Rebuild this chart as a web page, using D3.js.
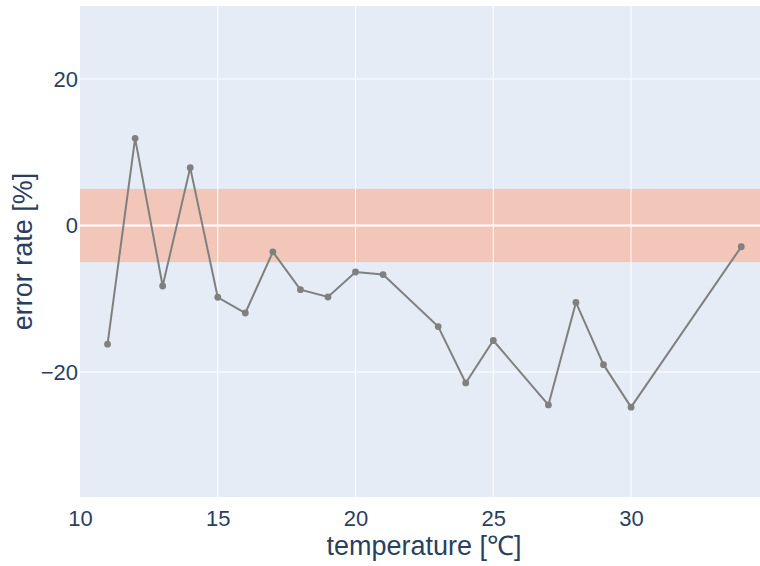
<!DOCTYPE html>
<html>
<head>
<meta charset="utf-8">
<script src="https://d3js.org/d3.v7.min.js"></script>
<style>
  body { margin: 0; background: #fff; }
  text { font-family: "Liberation Sans", Arial, sans-serif; fill: #2a3f5f; }
</style>
</head>
<body>
<div id="chart"></div>
<script>
// temperature readings and error rate at each one
const temperatures = [11, 12, 13, 14, 15, 16, 17, 18, 19, 20, 21, 23, 24, 25, 27, 28, 29, 30, 34];
const errorRates = [-16.2, 11.9, -8.26, 7.9, -9.8, -11.95, -3.6, -8.76, -9.76, -6.35, -6.7,
                    -13.8, -21.5, -15.7, -24.5, -10.5, -19.0, -24.8, -2.9];
const xTicks = [10, 15, 20, 25, 30];
const yTicks = [-20, 0, 20];
const toleranceBand = [-5, 5];
const xRange = [10, 34.68];
const yRange = [-37.07, 29.97];

const W = 760, H = 566;
const margin = {left: 80, top: 6, right: 0, bottom: 69};
const pw = W - margin.left - margin.right;
const ph = H - margin.top - margin.bottom;

const svg = d3.select("#chart").append("svg")
    .attr("width", W)
    .attr("height", H);

const x = d3.scaleLinear().domain(xRange).range([0, pw]);
const y = d3.scaleLinear().domain(yRange).range([ph, 0]);

const g = svg.append("g").attr("transform", `translate(${margin.left},${margin.top})`);

g.append("rect")
    .attr("width", pw)
    .attr("height", ph)
    .attr("fill", "#E5ECF6");

// tolerance band
g.append("rect")
    .attr("x", 0)
    .attr("width", pw)
    .attr("y", y(toleranceBand[1]))
    .attr("height", y(toleranceBand[0]) - y(toleranceBand[1]))
    .attr("fill", "#FFA07A")
    .attr("opacity", 0.5);

// grid
g.selectAll(".xgrid")
  .data(xTicks.filter(d => d !== xRange[0]))
  .join("line")
    .attr("x1", d => x(d)).attr("x2", d => x(d))
    .attr("y1", 0).attr("y2", ph)
    .attr("stroke", "#fff").attr("stroke-width", 1);

g.selectAll(".ygrid")
  .data(yTicks)
  .join("line")
    .attr("x1", 0).attr("x2", pw)
    .attr("y1", d => y(d)).attr("y2", d => y(d))
    .attr("stroke", "#fff")
    .attr("stroke-width", d => d === 0 ? 2 : 1);

// axes
const xAxis = g.append("g")
    .attr("transform", `translate(0,${ph})`)
    .call(d3.axisBottom(x).tickValues(xTicks).tickSize(0).tickPadding(13));
const yAxis = g.append("g")
    .call(d3.axisLeft(y).tickValues(yTicks).tickSize(0).tickPadding(2)
      .tickFormat(d => d < 0 ? "\u2212" + Math.abs(d) : d));
[xAxis, yAxis].forEach(a => {
  a.select(".domain").remove();
  a.selectAll("text").attr("font-size", 22).attr("fill", "#2a3f5f")
    .style("font-family", '"Liberation Sans", Arial, sans-serif');
});

// line + markers
const line = d3.line()
    .x((d, i) => x(temperatures[i]))
    .y(d => y(d));

g.append("path")
    .datum(errorRates)
    .attr("d", line)
    .attr("fill", "none")
    .attr("stroke", "grey")
    .attr("stroke-width", 2);

g.selectAll(".pt")
  .data(errorRates)
  .join("circle")
    .attr("cx", (d, i) => x(temperatures[i]))
    .attr("cy", d => y(d))
    .attr("r", 3.4)
    .attr("fill", "grey");

// titles
svg.append("text")
    .attr("x", margin.left + pw / 2 + 4)
    .attr("y", 555)
    .attr("text-anchor", "middle")
    .attr("font-size", 27)
    .text("temperature [\u2103]");

svg.append("text")
    .attr("transform", `translate(32,${margin.top + ph / 2}) rotate(-90)`)
    .attr("text-anchor", "middle")
    .attr("font-size", 27)
    .text("error rate [%]");
</script>
</body>
</html>
